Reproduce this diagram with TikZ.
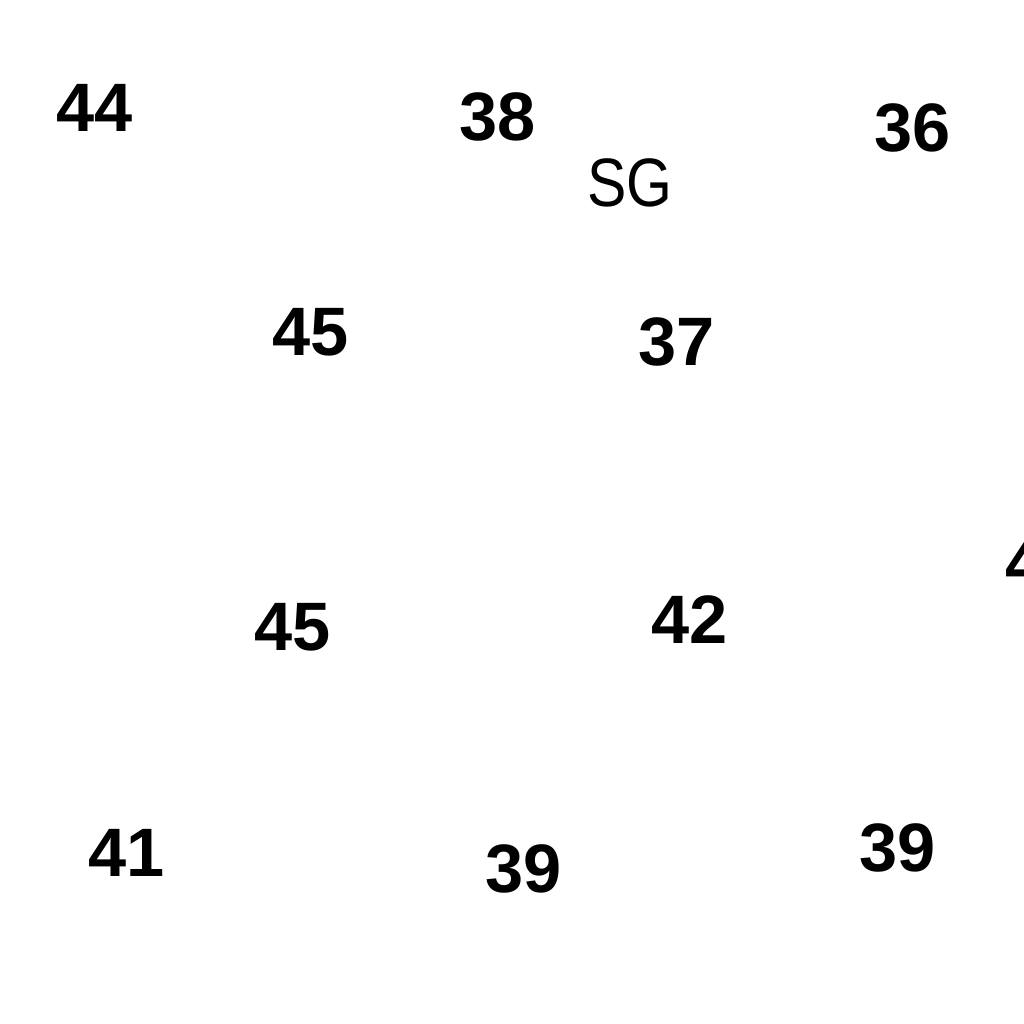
\documentclass[tikz,border=0pt]{standalone}
\usepackage{fontspec}
\setmainfont{Liberation Sans}
\usepackage{tikz}

\begin{document}
\begin{tikzpicture}[
        val/.style={inner sep=0pt, font=\fontsize{19.5}{20}\selectfont\bfseries},
        lbl/.style={inner sep=0pt, xscale=0.86, font=\fontsize{19.5}{20}\selectfont}
    ]
        % Frame
        \useasboundingbox (0,0) rectangle (10.24,10.24);

        % Top row
        \node[val] (v44) at (0.945,9.165) {44};
        \node[val] (v38a) at (4.98,9.07) {38};
        \node[val] (v36) at (9.13,8.96) {36};
        \node[lbl] (sg) at (6.30,8.41) {SG};

        % Second row
        \node[val] (v45a) at (3.11,6.92) {45};
        \node[val] (v37) at (6.77,6.82) {37};

        % Third row (right value runs off the edge)
        \node[val, anchor=west] (v4) at (10.05,4.61) {4};
        \node[val] (v45b) at (2.93,3.97) {45};
        \node[val] (v42) at (6.90,4.04) {42};

        % Bottom row
        \node[val] (v41) at (1.27,1.71) {41};
        \node[val] (v39a) at (5.24,1.55) {39};
        \node[val] (v39b) at (8.98,1.76) {39};
    \end{tikzpicture}
\end{document}
